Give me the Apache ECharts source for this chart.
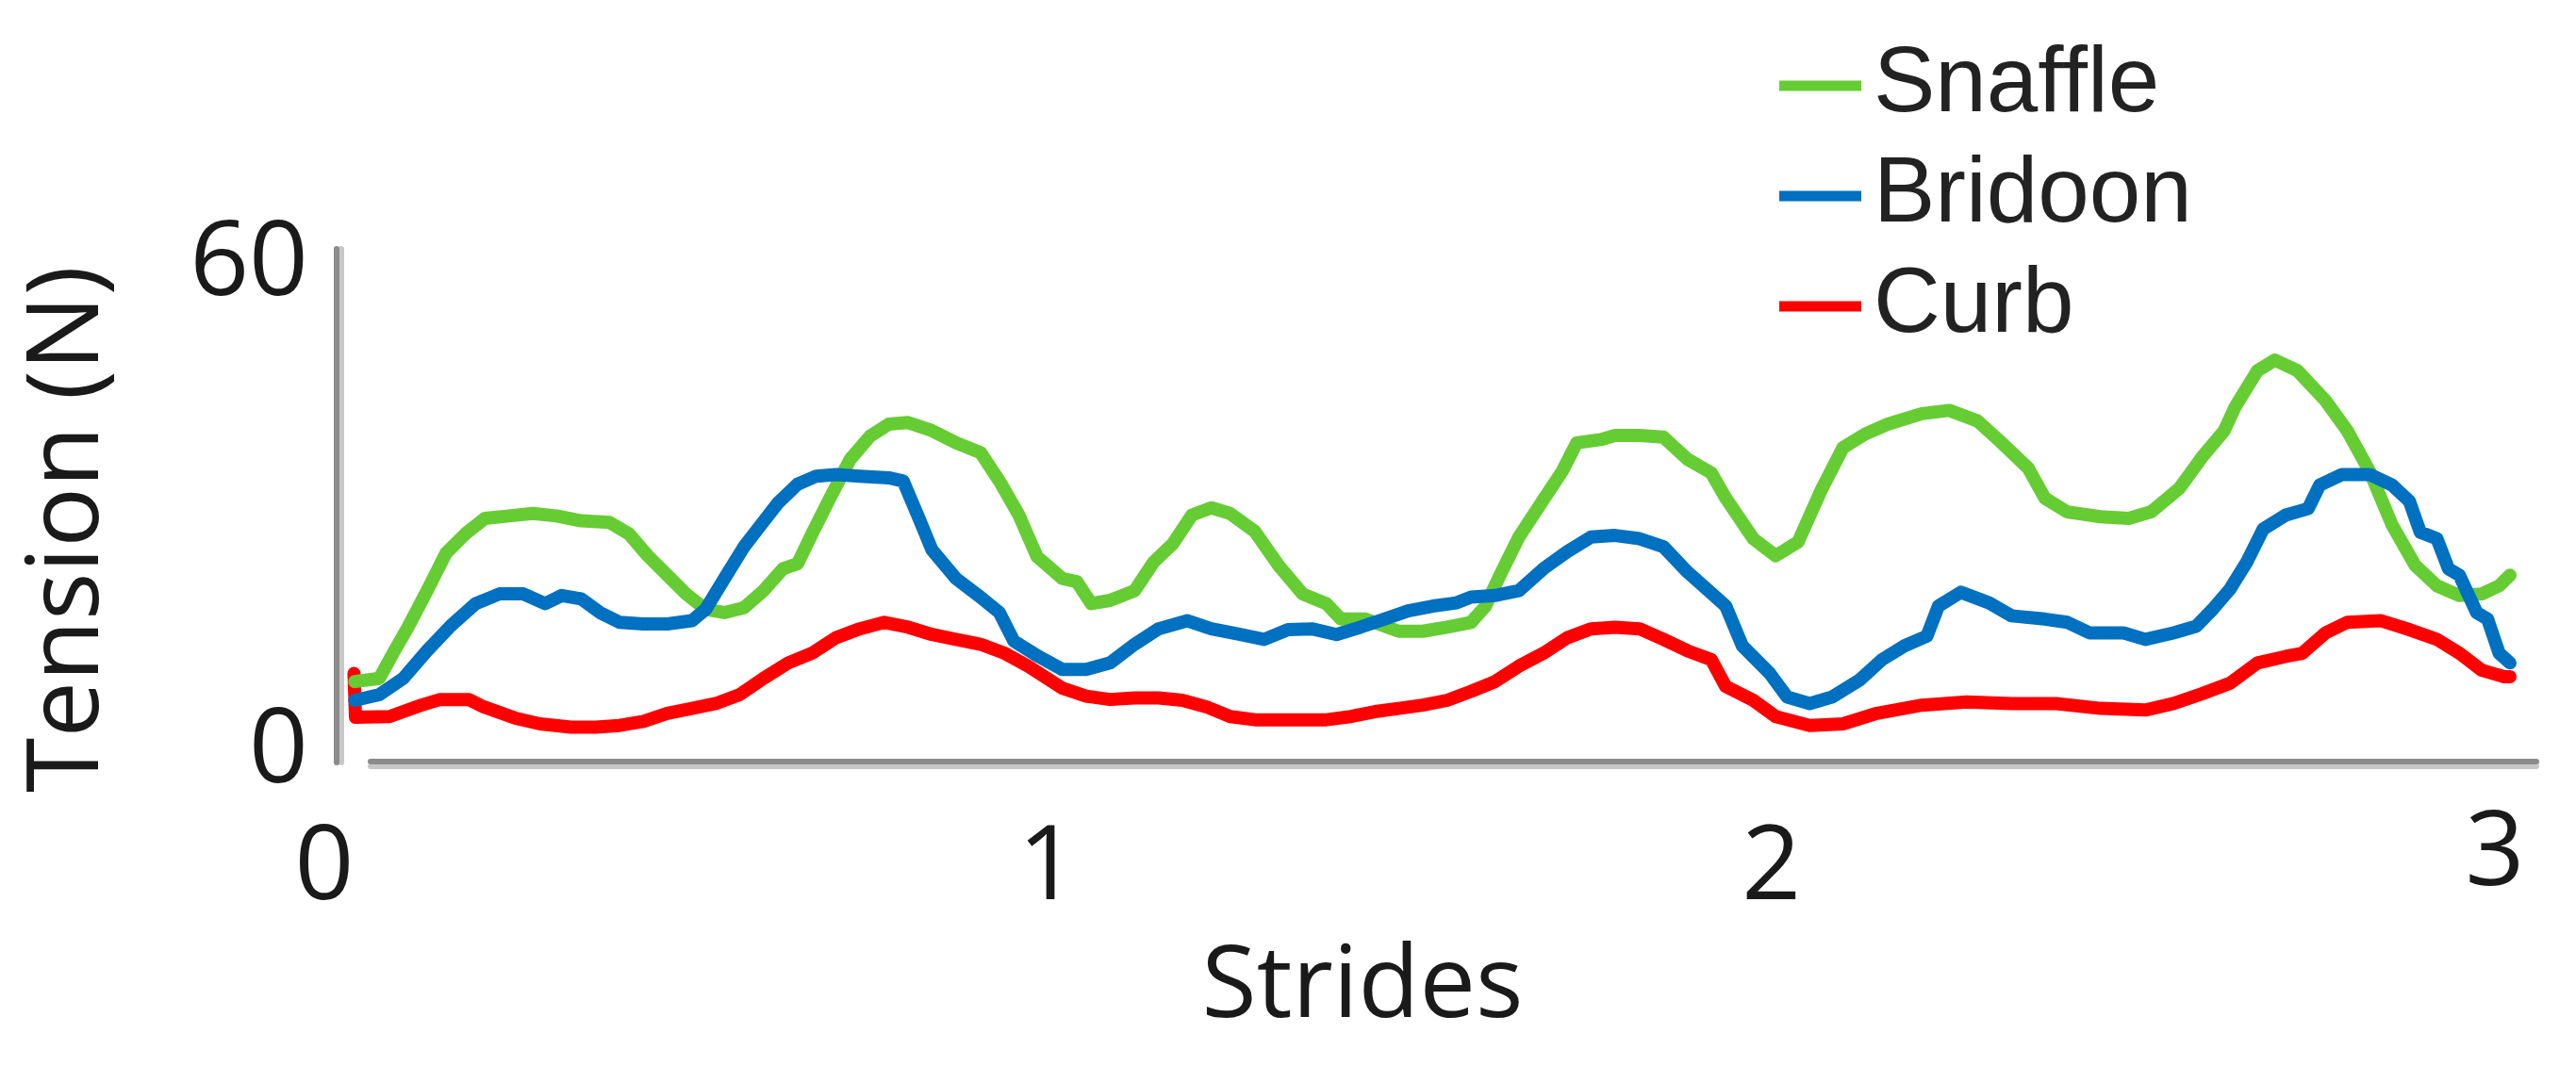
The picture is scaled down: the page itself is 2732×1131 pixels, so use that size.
<!DOCTYPE html>
<html><head><meta charset="utf-8">
<script src="https://cdn.jsdelivr.net/npm/echarts@6/dist/echarts.min.js"></script>
<style>html,body{margin:0;padding:0;background:#fff}#c{width:2732px;height:1131px}</style>
</head><body><div id="c"></div>
<script>
const legendNames = ['Snaffle', 'Bridoon', 'Curb'];
const xTickValues = [0, 1, 2, 3];
const yTickValues = [0, 60];

const snaffleS = [0.042,0.076,0.095,0.115,0.142,0.168,0.195,0.222,0.255,0.288,0.321,0.355,0.394,0.421,0.447,0.474,0.500,0.527,0.553,0.580,0.607,0.634,0.654,0.674,0.700,0.727,0.754,0.780,0.807,0.840,0.873,0.907,0.933,0.960,0.985,1.020,1.040,1.060,1.086,1.120,1.146,1.173,1.199,1.226,1.252,1.286,1.319,1.352,1.385,1.405,1.439,1.485,1.518,1.552,1.585,1.605,1.625,1.651,1.685,1.711,1.731,1.764,1.784,1.818,1.851,1.884,1.917,1.937,1.975,2.006,2.037,2.068,2.099,2.130,2.161,2.208,2.246,2.285,2.316,2.355,2.378,2.409,2.455,2.494,2.525,2.564,2.595,2.626,2.641,2.672,2.696,2.727,2.766,2.796,2.827,2.858,2.890,2.920,2.951,2.982,3.006,3.021];
const snaffleV = [8.8,9.2,12.3,15.4,20.0,24.6,27.0,28.9,29.2,29.5,29.2,28.6,28.4,27.0,24.3,21.9,19.6,17.7,17.3,17.9,20.0,22.7,23.3,27.0,31.6,36.2,39.0,40.5,40.7,39.7,38.2,37.0,33.5,29.3,24.2,21.5,21.1,18.4,18.8,20.0,23.5,25.8,29.3,30.2,29.5,27.3,23.1,19.6,18.4,16.5,16.5,15.0,15.0,15.5,16.1,18.1,21.9,26.6,31.2,34.7,38.2,38.6,39.1,39.1,38.9,36.2,34.5,31.4,26.4,24.3,26.0,32.2,37.6,39.3,40.5,41.8,42.2,40.9,38.4,35.1,31.4,29.7,29.1,28.9,29.7,32.6,36.4,39.7,42.6,47.1,48.4,47.1,43.4,39.7,34.7,28.1,23.1,20.6,19.4,19.6,20.6,21.9];

const bridoonS = [0.042,0.076,0.109,0.142,0.175,0.209,0.242,0.275,0.305,0.328,0.355,0.381,0.408,0.441,0.474,0.508,0.527,0.553,0.580,0.600,0.627,0.654,0.680,0.707,0.740,0.780,0.800,0.820,0.840,0.873,0.907,0.933,0.953,0.987,1.020,1.053,1.086,1.120,1.153,1.193,1.226,1.266,1.299,1.332,1.365,1.399,1.432,1.465,1.498,1.532,1.565,1.585,1.618,1.651,1.685,1.718,1.751,1.784,1.818,1.851,1.884,1.917,1.937,1.960,1.998,2.022,2.053,2.084,2.122,2.153,2.184,2.215,2.231,2.262,2.301,2.332,2.378,2.409,2.440,2.487,2.517,2.556,2.587,2.610,2.634,2.657,2.680,2.711,2.742,2.758,2.789,2.827,2.858,2.882,2.897,2.920,2.936,2.951,2.975,2.990,3.006,3.021];
const bridoonV = [6.5,7.2,9.2,12.6,15.7,18.4,19.6,19.6,18.4,19.4,19.0,17.3,16.1,15.9,15.9,16.3,17.7,21.5,25.4,27.7,30.8,33.1,34.1,34.3,34.1,33.9,33.5,29.3,25.0,21.5,19.2,17.3,13.8,11.9,10.3,10.3,11.1,13.4,15.3,16.3,15.3,14.6,14.0,15.2,15.3,14.6,15.5,16.5,17.5,18.1,18.5,19.2,19.4,20.0,22.7,24.8,26.6,26.8,26.4,25.4,22.3,19.7,18.1,13.2,9.8,6.9,6.1,6.9,9.0,11.5,13.2,14.4,18.1,19.8,18.5,16.9,16.5,16.1,14.8,14.8,14.0,14.8,15.6,17.7,20.2,23.5,27.6,29.3,30.1,33.0,34.3,34.3,33.0,31.0,27.2,26.4,22.7,21.9,17.3,16.5,12.3,11.1];

const curbS = [0.041,0.043,0.090,0.134,0.160,0.200,0.220,0.264,0.298,0.341,0.375,0.408,0.441,0.474,0.508,0.541,0.574,0.607,0.641,0.674,0.707,0.740,0.774,0.807,0.840,0.873,0.907,0.940,0.973,1.020,1.053,1.086,1.120,1.153,1.186,1.219,1.252,1.286,1.319,1.352,1.385,1.419,1.452,1.485,1.518,1.552,1.585,1.618,1.651,1.685,1.718,1.751,1.784,1.818,1.851,1.884,1.917,1.937,1.975,2.006,2.053,2.099,2.146,2.208,2.270,2.332,2.394,2.455,2.517,2.556,2.595,2.634,2.672,2.711,2.734,2.766,2.796,2.843,2.882,2.920,2.951,2.982,3.013,3.021];
const curbV = [9.8,4.4,4.5,5.9,6.6,6.6,5.7,4.3,3.6,3.2,3.2,3.4,3.9,4.9,5.5,6.1,7.2,9.2,11.1,12.3,14.2,15.3,16.1,15.5,14.6,14.0,13.4,12.3,10.7,8.0,7.0,6.6,6.8,6.8,6.5,5.7,4.5,4.1,4.1,4.1,4.1,4.5,5.1,5.5,5.9,6.5,7.6,8.8,10.7,12.3,14.2,15.3,15.5,15.3,14.0,12.6,11.5,8.2,6.5,4.5,3.4,3.6,4.9,5.9,6.3,6.1,6.1,5.5,5.3,6.1,7.3,8.6,11.1,11.9,12.3,14.8,16.1,16.3,15.2,14.0,12.3,10.2,9.4,9.4];

const pairs = (s, v) => s.map((x, i) => [x, v[i]]);
const chart = echarts.init(document.getElementById('c'), null, {renderer: 'canvas', width: 2732, height: 1131});

const axisCol = '#8c8c8c';
const textCol = '#1a1a1a';
const tickFont = "'Open Sans', 'Noto Sans', sans-serif";

function lineSeries(name, s, v, color, z) {
  return {
    name, type: 'line', xAxisIndex: 0, yAxisIndex: 0, z,
    data: pairs(s, v), showSymbol: false, symbol: 'none', smooth: false,
    lineStyle: {color, width: 14, cap: 'round', join: 'round'},
    itemStyle: {color}, emphasis: {disabled: true}
  };
}

chart.setOption({
  animation: false,
  backgroundColor: '#ffffff',
  grid: [
    {left: 344, top: 264, width: 2346, height: 545},
    {left: 393, top: 264, width: 2297, height: 543.5}
  ],
  xAxis: [
    {type: 'value', gridIndex: 0, min: 0, max: 3.0575,
     axisLine: {show: false, onZero: false}, axisTick: {show: false}, splitLine: {show: false},
     axisLabel: {customValues: xTickValues, margin: 59, fontSize: 110, fontFamily: tickFont, color: textCol,
       formatter: v => (v === 3 ? '{up|3}' : String(v)),
       rich: {up: {fontSize: 110, fontFamily: tickFont, color: textCol, lineHeight: 80}}},
     name: 'Strides', nameLocation: 'middle', nameGap: 187,
     nameTextStyle: {fontSize: 106, fontFamily: tickFont, color: textCol, padding: [0, 144, 0, 0]}},
    {type: 'value', gridIndex: 1, min: 0, max: 1,
     axisLine: {show: true, onZero: false, lineStyle: {color: axisCol, width: 6, shadowColor: '#c8c8c8', shadowOffsetY: 5, shadowBlur: 0}},
     axisTick: {show: false}, axisLabel: {show: false}, splitLine: {show: false}}
  ],
  yAxis: [
    {type: 'value', gridIndex: 0, min: -1.16, max: 62.09, offset: -13,
     axisLine: {show: true, onZero: false, lineStyle: {color: axisCol, width: 6, shadowColor: '#c8c8c8', shadowOffsetX: 5, shadowBlur: 0}},
     axisTick: {show: false}, splitLine: {show: false},
     axisLabel: {customValues: yTickValues, margin: 30, fontSize: 110, fontFamily: tickFont, color: textCol},
     name: 'Tension (N)', nameLocation: 'middle', nameGap: 230,
     nameTextStyle: {fontSize: 106, fontFamily: tickFont, color: textCol, padding: [0, 50, 0, 0]}},
    {type: 'value', gridIndex: 1, min: 0, max: 1, show: false}
  ],
  legend: {
    data: legendNames, orient: 'vertical', left: 1882, top: 37,
    itemWidth: 87, itemHeight: 11, itemGap: 19, icon: 'rect',
    textStyle: {fontSize: 98, fontFamily: "'Liberation Sans Narrow', 'Liberation Sans', Arial, sans-serif", color: '#222', padding: [0, 0, 0, 8]}
  },
  series: [
    lineSeries('Curb', curbS, curbV, '#ff0000', 2),
    lineSeries('Snaffle', snaffleS, snaffleV, '#66cc33', 3),
    lineSeries('Bridoon', bridoonS, bridoonV, '#0070c0', 4)
  ]
});
</script></body></html>
